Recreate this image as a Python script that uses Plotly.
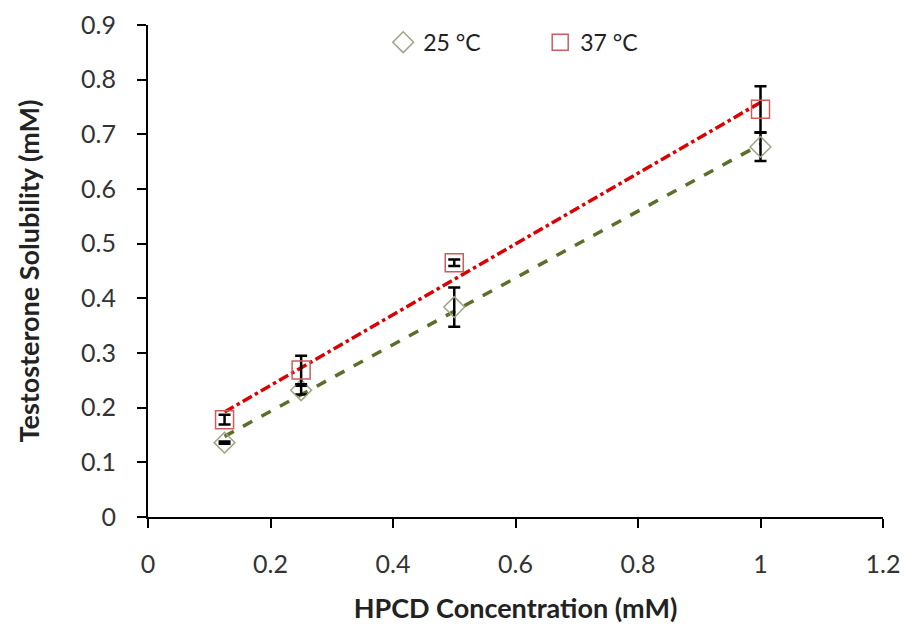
import numpy as np
import plotly.graph_objects as go

conc = [0.125, 0.25, 0.5, 1.0]
sol_25 = [0.136, 0.232, 0.384, 0.677]
err_25 = [0.002, 0.008, 0.036, 0.026]
sol_37 = [0.178, 0.269, 0.465, 0.746]
err_37 = [0.009, 0.026, 0.006, 0.042]
x_ticks = [0, 0.2, 0.4, 0.6, 0.8, 1, 1.2]
y_ticks = [0, 0.1, 0.2, 0.3, 0.4, 0.5, 0.6, 0.7, 0.8, 0.9]

FONT = "Lato, 'Open Sans', sans-serif"

fig = go.Figure()

def trend(xs, ys):
    m, b = np.polyfit(xs, ys, 1)
    xx = np.array([min(xs), max(xs)])
    return xx, m * xx + b

tx, ty = trend(conc, sol_25)
fig.add_trace(go.Scatter(x=tx, y=ty, mode="lines", showlegend=False,
                         line=dict(color="#5b6f2b", width=3.5, dash="dash"), hoverinfo="skip"))
tx, ty = trend(conc, sol_37)
fig.add_trace(go.Scatter(x=tx, y=ty, mode="lines", showlegend=False,
                         line=dict(color="#dd0000", width=3.5, dash="dashdot"), hoverinfo="skip"))

fig.add_trace(go.Scatter(
    x=conc, y=sol_25, mode="markers", name="25 °C",
    marker=dict(symbol="diamond-open", size=16, color="#9ba484", line=dict(width=1.5, color="#9ba484")),
    error_y=dict(type="data", array=err_25, visible=True, color="black", thickness=2.5, width=6),
))
fig.add_trace(go.Scatter(
    x=conc, y=sol_37, mode="markers", name="37 °C",
    marker=dict(symbol="square-open", size=18, color="#cd5c5c", line=dict(width=1.5, color="#cd5c5c")),
    error_y=dict(type="data", array=err_37, visible=True, color="black", thickness=2.5, width=6),
))

axis_common = dict(
    showgrid=False, zeroline=False, showline=True, linecolor="black", linewidth=2,
    ticks="outside", ticklen=9, tickwidth=2, tickcolor="black",
    tickfont=dict(family=FONT, size=25, color="#333333"),
    automargin=False,
)

fig.update_xaxes(range=[0, 1.2], tickvals=x_ticks, ticktext=[str(v) for v in x_ticks],
                 ticklabelstandoff=15,
                 title=dict(text="<b>HPCD Concentration (mM)</b>", font=dict(family=FONT, size=27, color="#222"), standoff=22),
                 **axis_common)
fig.update_yaxes(range=[0, 0.9], tickvals=y_ticks, ticktext=[str(v) for v in y_ticks],
                 ticklabelstandoff=16,
                 title=dict(text="<b>Testosterone Solubility (mM)</b>", font=dict(family=FONT, size=27, color="#222"), standoff=34),
                 **axis_common)

# the page body adds an 8px offset, so the figure is sized to fit the window
fig.update_layout(
    width=904, height=626,
    margin=dict(l=140, r=29, t=17, b=117),
    plot_bgcolor="white", paper_bgcolor="white",
    font=dict(family=FONT, color="#222"),
    legend=dict(orientation="h", x=0.32, y=0.965, xanchor="left", yanchor="middle",
                font=dict(family=FONT, size=23, color="#222"),
                entrywidth=112, entrywidthmode="pixels", itemwidth=30,
                bgcolor="rgba(0,0,0,0)"),
)

fig.write_html("out.html")
